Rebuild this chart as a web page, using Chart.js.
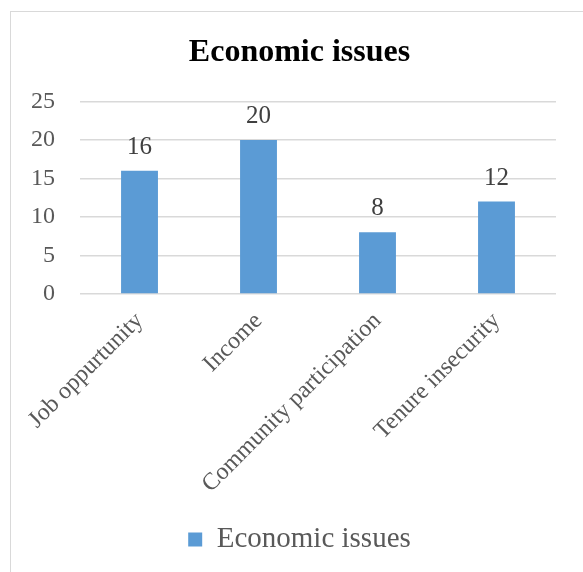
<!DOCTYPE html>
<html lang="en">
<head>
    <meta charset="UTF-8">
    <title>Economic issues</title>
    <script src="https://cdn.jsdelivr.net/npm/chart.js"></script>
    <style>
        html, body {
            margin: 0;
            padding: 0;
            background: #fff;
            overflow: hidden;
        }
        .frame {
            position: absolute;
            left: 10px;
            top: 11px;
            width: 576px;
            height: 580px;
            border: 1px solid #d9d9d9;
            box-sizing: border-box;
        }
        canvas { display: block; }
    </style>
</head>
<body>
    <div class="frame">
        <canvas id="chart" width="574" height="578"></canvas>
    </div>

    <script>
        // data
        const categories = ['Job oppurtunity', 'Income', 'Community participation', 'Tenure insecurity']
        const issueCounts = [16, 20, 8, 12]
        const seriesName = 'Economic issues'
        const yTicks = [0, 5, 10, 15, 20, 25]

        const serif = "'Liberation Serif', 'Times New Roman', serif"

        // value labels above the bars (no datalabels plugin offline)
        const barValues = {
            id: 'barValues',
            afterDatasetsDraw(chart) {
                const ctx = chart.ctx
                const meta = chart.getDatasetMeta(0)
                ctx.save()
                ctx.font = '25px ' + serif
                ctx.fillStyle = '#404040'
                ctx.textAlign = 'center'
                ctx.textBaseline = 'alphabetic'
                meta.data.forEach((bar, i) => {
                    ctx.fillText(chart.data.datasets[0].data[i], bar.x, bar.y - 17)
                })
                ctx.restore()
            }
        }

        new Chart(document.getElementById('chart'), {
            type: 'bar',
            data: {
                labels: categories,
                datasets: [{
                    label: seriesName,
                    data: issueCounts,
                    backgroundColor: '#5b9bd5',
                    borderWidth: 0,
                    barPercentage: 0.31,
                    categoryPercentage: 1
                }]
            },
            options: {
                responsive: false,
                animation: false,
                // left padding pushes title/legend centre right like the original
                layout: { padding: { left: 32, right: 29, top: 10, bottom: 26 } },
                scales: {
                    y: {
                        min: 0,
                        max: 25,
                        afterBuildTicks: (s) => { s.ticks = yTicks.map(v => ({ value: v })) },
                        afterFit: (s) => { s.width = 36 },
                        grid: { color: '#d9d9d9', lineWidth: 1.5, drawTicks: false },
                        border: { display: false },
                        ticks: {
                            color: '#595959',
                            font: { family: serif, size: 24 },
                            // mirrored so the labels can sit in the padding without being clipped,
                            // single digits padded with a figure space to keep them right aligned
                            mirror: true,
                            padding: -49,
                            callback: (v) => (v < 10 ? '\u2007' : '') + v
                        }
                    },
                    x: {
                        afterFit: (s) => { s.height = 221 },
                        grid: { display: false, drawTicks: false },
                        border: { display: false },
                        ticks: {
                            color: '#595959',
                            font: { family: serif, size: 24 },
                            minRotation: 45,
                            maxRotation: 45,
                            padding: 13
                        }
                    }
                },
                plugins: {
                    title: {
                        display: true,
                        text: 'Economic issues',
                        color: '#000',
                        font: { family: serif, size: 32, weight: 'bold' },
                        padding: { top: 12, bottom: 29 }
                    },
                    legend: {
                        position: 'bottom',
                        labels: {
                            color: '#595959',
                            font: { family: serif, size: 29 },
                            boxWidth: 14,
                            boxHeight: 14,
                            padding: 10
                        }
                    },
                    tooltip: { enabled: false }
                }
            },
            plugins: [barValues]
        })
    </script>
</body>
</html>
